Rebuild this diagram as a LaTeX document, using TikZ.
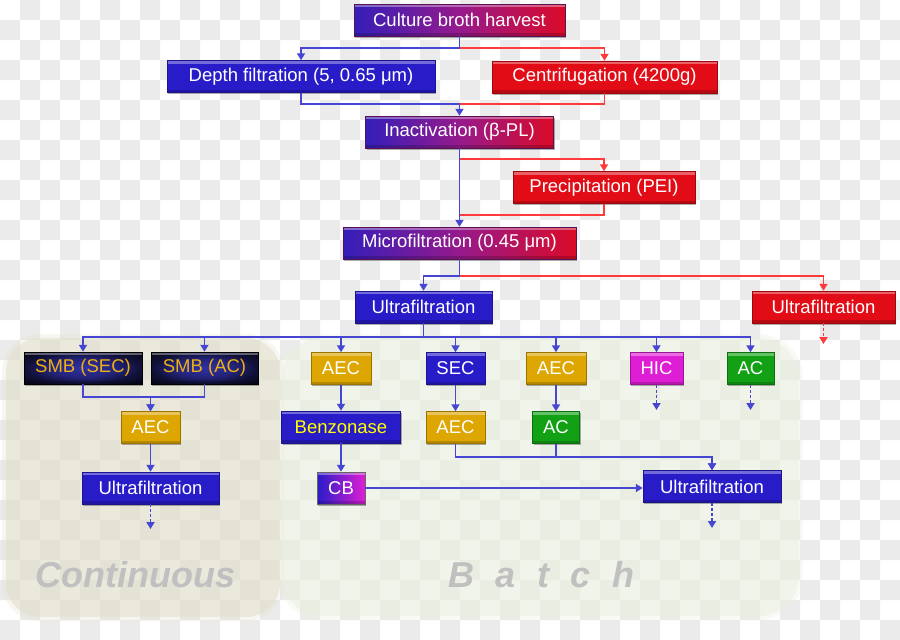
\documentclass[tikz,border=0pt]{standalone}
\usepackage{fontspec}
\setmainfont{Liberation Sans}
\usetikzlibrary{arrows.meta,shadows,calc}
\definecolor{cblue}{RGB}{40,28,200}
\definecolor{cred}{RGB}{225,12,22}
\definecolor{cgold}{RGB}{222,166,0}
\definecolor{cgreen}{RGB}{18,160,20}
\definecolor{cmag}{RGB}{222,30,212}
\definecolor{lblue}{RGB}{70,70,210}
\definecolor{lred}{RGB}{255,58,58}
\definecolor{smbtxt}{RGB}{236,176,20}
\definecolor{checker}{RGB}{235,235,235}
\definecolor{gblue}{RGB}{52,30,185}
\definecolor{gmid}{RGB}{150,26,140}
\definecolor{gred}{RGB}{218,10,40}
\definecolor{pcont}{RGB}{225,221,201}
\definecolor{pbatch}{RGB}{233,239,223}
\definecolor{bgtext}{RGB}{192,192,192}
\definecolor{smbin}{RGB}{48,48,165}
\definecolor{benztxt}{RGB}{255,255,0}
\pgfdeclareradialshading{smbshade}{\pgfpoint{0bp}{0bp}}{color(0bp)=(smbin); color(14bp)=(smbin!75!black); color(24bp)=(smbin!35!black); color(36bp)=(smbin!10!black); color(50bp)=(black)}
\tikzset{
  box/.style={rectangle, inner sep=0pt, minimum height=32pt, text=white,
    font=\fontsize{18.5}{20}\selectfont,
    drop shadow={shadow xshift=1.3pt, shadow yshift=-1.6pt, opacity=0.45, fill=black!70},
    path picture={
      \fill[white,opacity=0.35] (path picture bounding box.north west) rectangle ([yshift=-3pt]path picture bounding box.north east);
      \fill[black,opacity=0.18] (path picture bounding box.south west) rectangle ([yshift=3pt]path picture bounding box.south east);
    }},
  bluebox/.style={box, fill=cblue, draw=cblue!70!black, line width=0.5pt},
  redbox/.style={box, fill=cred, draw=cred!70!black, line width=0.5pt},
  goldbox/.style={box, fill=cgold, draw=cgold!70!black, line width=0.5pt},
  greenbox/.style={box, fill=cgreen, draw=cgreen!70!black, line width=0.5pt},
  magbox/.style={box, fill=cmag, draw=cmag!70!black, line width=0.5pt},
  gradbox/.style={box, left color=gblue, right color=gred, middle color=gmid, draw=gmid!60!black, line width=0.5pt},
  smbbox/.style={box, shading=smbshade, draw=black, line width=0.5pt, text=smbtxt},
  cbbox/.style={box, left color=cblue, middle color=cgold, right color=cmag, draw=black!60, line width=0.5pt},
  bline/.style={draw=lblue, line width=1.9pt},
  rline/.style={draw=lred, line width=1.9pt},
  arr/.style={-{Triangle[length=7pt,width=8pt]}},
  dotline/.style={dash pattern=on 3pt off 2pt},
  bgword/.style={text=bgtext, font=\fontsize{36}{40}\selectfont\bfseries\itshape, inner sep=0pt, anchor=base west}
}
\begin{document}
\begin{tikzpicture}[x=1pt,y=-1pt]
\useasboundingbox (0,0) rectangle (900,640);
\fill[white] (0,0) rectangle (900,640);
% checkerboard background
\foreach \j in {0,...,31}{
  \pgfmathtruncatemacro{\s}{mod(\j+1,2)}
  \fill[checker] \foreach \i in {0,2,...,44}{ (\i*20+\s*20,\j*20) rectangle ++(20,20) };
}
% panels
\fill[pcont, opacity=0.25, rounded corners=38pt] (2,334) rectangle (284,621);
\fill[pcont, opacity=0.5, rounded corners=34pt] (6,338) rectangle (280,617);
\fill[pbatch, opacity=0.25, rounded corners=44pt] (278,334) rectangle (803,620);
\fill[pbatch, opacity=0.5, rounded corners=40pt] (282,338) rectangle (799,616);
\node[bgword] (cont) at (35,587) {Continuous};
\node[bgword] (batch) at (448,587) {\spaceskip=21.5pt B a t c h};
% nodes
\node[gradbox, minimum width=211pt] (harvest) at (459.5,20) {Culture broth harvest};
\node[bluebox, minimum width=268pt] (depth) at (301,76.5) {Depth filtration (5, 0.65 μm)};
\node[redbox, minimum width=225pt] (centri) at (604.5,77) {Centrifugation (4200g)};
\node[gradbox, minimum width=188pt] (inact) at (459.5,132) {Inactivation (β-PL)};
\node[redbox, minimum width=182pt] (precip) at (604,187.5) {Precipitation (PEI)};
\node[gradbox, minimum width=233pt] (micro) at (459.5,243) {Microfiltration (0.45 μm)};
\node[bluebox, minimum width=137pt] (uf1) at (423.5,307) {Ultrafiltration};
\node[redbox, minimum width=143pt] (ufr) at (823.5,307) {Ultrafiltration};
\node[smbbox, minimum width=118pt] (smbsec) at (83,368) {SMB (SEC)};
\node[smbbox, minimum width=107pt] (smbac) at (204.5,368) {SMB (AC)};
\node[goldbox, minimum width=59pt] (aecc) at (150.5,427.5) {AEC};
\node[bluebox, minimum width=137pt] (ufc) at (150.5,488) {Ultrafiltration};
\node[goldbox, minimum width=60pt] (aec1) at (341,368.5) {AEC};
\node[bluebox, minimum width=119pt, text=benztxt] (benz) at (341,427) {Benzonase};
\node[cbbox, minimum width=48pt] (cb) at (341,488) {CB};
\node[bluebox, minimum width=59pt] (sec) at (455.5,368.5) {SEC};
\node[goldbox, minimum width=60pt] (aec2) at (556,368.5) {AEC};
\node[magbox, minimum width=53pt] (hic) at (656.5,368.5) {HIC};
\node[greenbox, minimum width=47pt] (ac1) at (750.5,368.5) {AC};
\node[goldbox, minimum width=59pt] (aec3) at (455.5,427.5) {AEC};
\node[greenbox, minimum width=47pt] (ac2) at (556,427.5) {AC};
\node[bluebox, minimum width=138pt] (ufb) at (712,486.5) {Ultrafiltration};
% junction coordinates
\coordinate (j1) at (459.5,48);
\coordinate (j2) at (459.5,104);
\coordinate (j3) at (459.5,159);
\coordinate (j4) at (459.5,215);
\coordinate (j5) at (459.5,276);
\coordinate (eufr) at (823.5,344);
\coordinate (eufc) at (150.5,529);
\coordinate (ehic) at (656.5,410);
\coordinate (eac1) at (750.5,410);
\coordinate (eufb) at (712,528);
% connectors top part
\draw[bline] (harvest.south) -- (j1);
\draw[bline,arr] (j1) -| (depth.north);
\draw[rline,arr] (j1) -| (centri.north);
\draw[rline] (centri.south) |- (j2);
\draw[bline] (depth.south) |- (j2);
\draw[bline,arr] (j2) -- (inact.north);
\draw[rline,arr] (j3) -| (precip.north);
\draw[rline] (precip.south) |- (j4);
\draw[bline,arr] (inact.south) -- (micro.north);
\draw[bline] (micro.south) -- (j5);
\draw[bline,arr] (j5) -| (uf1.north);
\draw[rline,arr] (j5) -| (ufr.north);
\draw[rline,dotline,arr] (ufr.south) -- (eufr);
% bus
\foreach \t in {smbsec,smbac,aec1,sec,aec2,hic,ac1}{
  \draw[bline,arr] (uf1.south) -- ++(0,14) -| (\t.north);
}
% continuous
\draw[bline,arr] (smbsec.south) -- ++(0,13) -| (aecc.north);
\draw[bline,arr] (smbac.south) -- ++(0,13) -| (aecc.north);
\draw[bline,arr] (aecc.south) -- (ufc.north);
\draw[bline,dotline,arr] (ufc.south) -- (eufc);
% batch
\draw[bline,arr] (aec1.south) -- (benz.north);
\draw[bline,arr] (benz.south) -- (cb.north);
\draw[bline,arr] (cb.east) -- (cb.east -| ufb.west);
\draw[bline,arr] (sec.south) -- (aec3.north);
\draw[bline,arr] (aec2.south) -- (ac2.north);
\draw[bline,arr] (aec3.south) -- ++(0,13) -| (ufb.north);
\draw[bline,arr] (ac2.south) -- ++(0,13) -| (ufb.north);
\draw[bline,dotline,arr] (hic.south) -- (ehic);
\draw[bline,dotline,arr] (ac1.south) -- (eac1);
\draw[bline,dotline,arr] (ufb.south) -- (eufb);
\end{tikzpicture}
\end{document}
